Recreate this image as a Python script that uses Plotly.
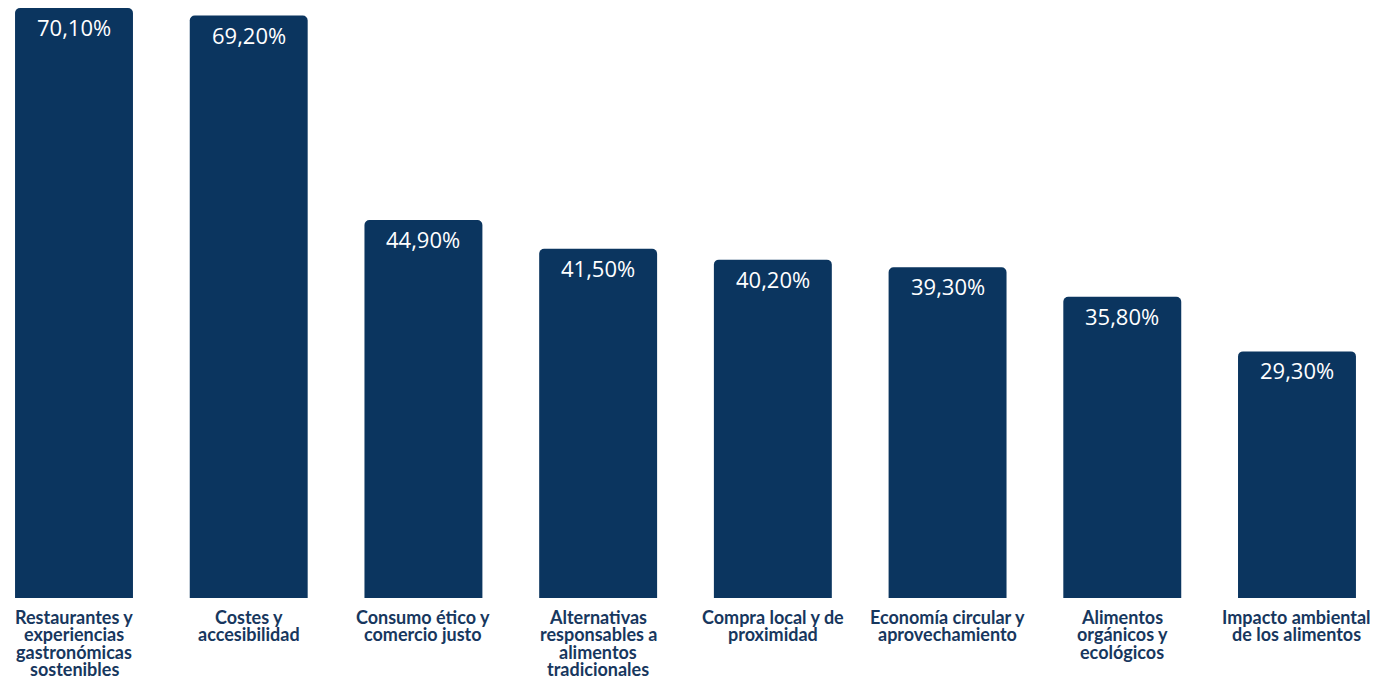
import plotly.graph_objects as go

categories = [
    "Restaurantes y<br>experiencias<br>gastronómicas<br>sostenibles",
    "Costes y<br>accesibilidad",
    "Consumo ético y<br>comercio justo",
    "Alternativas<br>responsables a<br>alimentos<br>tradicionales",
    "Compra local y de<br>proximidad",
    "Economía circular y<br>aprovechamiento",
    "Alimentos<br>orgánicos y<br>ecológicos",
    "Impacto ambiental<br>de los alimentos",
]
values = [70.1, 69.2, 44.9, 41.5, 40.2, 39.3, 35.8, 29.3]
value_labels = ["70,10%", "69,20%", "44,90%", "41,50%", "40,20%", "39,30%", "35,80%", "29,30%"]

BAR = "#0b355f"
LABEL = "#17375e"
LINE_STEP = 17.6  # px between category label lines

xs = list(range(len(values)))

fig = go.Figure(
    go.Bar(
        x=xs,
        y=values,
        marker=dict(color=BAR, cornerradius=5, line=dict(width=0)),
        width=0.675,
        hoverinfo="skip",
    )
)

# value labels inside the top of each bar
for x, v, t in zip(xs, values, value_labels):
    fig.add_annotation(
        x=x, y=v, text=t, showarrow=False,
        yanchor="top", yshift=-2,
        font=dict(family="Open Sans", size=22, weight=500, color="white"),
    )

# category labels under the bars, one annotation per line for tight leading
for x, cat in zip(xs, categories):
    for i, line in enumerate(cat.split("<br>")):
        fig.add_annotation(
            x=x, y=0, text=f"<b>{line}</b>", showarrow=False,
            yanchor="middle", yshift=-(18.5 + i * LINE_STEP),
            font=dict(family="Lato", size=18, color=LABEL),
        )

fig.update_layout(
    width=1378, height=677,
    margin=dict(l=0, r=0, t=0, b=79),
    paper_bgcolor="white", plot_bgcolor="white",
    showlegend=False,
    xaxis=dict(
        range=[-0.4236, 7.4637],
        showticklabels=False,
        showgrid=False, zeroline=False, showline=False, ticks="",
    ),
    yaxis=dict(range=[0, 71.05], visible=False, showgrid=False),
)

fig.write_html("out.html")
